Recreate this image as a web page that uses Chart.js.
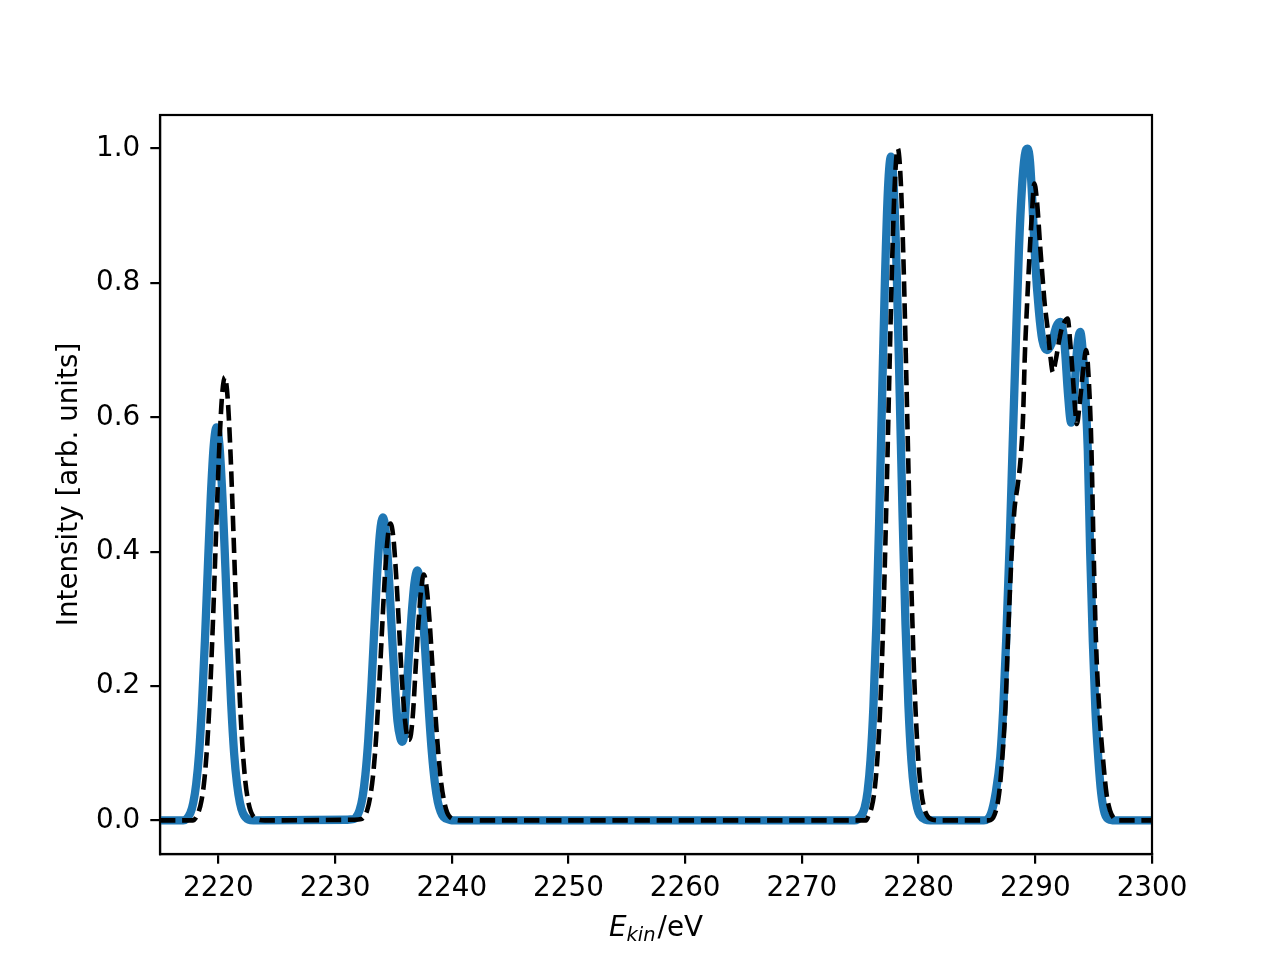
<!DOCTYPE html>
<html>
<head>
<meta charset="utf-8">
<script src="https://cdn.jsdelivr.net/npm/chart.js@4/dist/chart.umd.min.js"></script>
<style>
html,body{margin:0;padding:0;background:#fff;}
#wrap{width:1280px;height:960px;}
</style>
</head>
<body>
<div id="wrap"><canvas id="c" width="1280" height="960"></canvas></div>
<script>
// ---- data ----
const xTicks = [2220, 2230, 2240, 2250, 2260, 2270, 2280, 2290, 2300];
const yTicks = [0.0, 0.2, 0.4, 0.6, 0.8, 1.0];
const xLabelMain = "E";
const xLabelSub = "kin";
const xLabelTail = "/eV";
const yLabel = "Intensity [arb. units]";

// blue solid series
const blueE = [
  2215, 2217.0, 2217.6, 2217.85, 2218.1, 2218.35, 2218.6, 2218.85, 2219.1, 2219.35, 2219.6, 2219.85,
  2220.1, 2220.35, 2220.6, 2220.85, 2221.1, 2221.35, 2221.6, 2221.85, 2222.1, 2222.6, 2223.0,
  2231.0, 2231.6, 2231.85, 2232.1, 2232.35, 2232.6, 2232.85, 2233.1, 2233.35, 2233.6, 2233.85, 2234.1,
  2234.35, 2234.6, 2234.85, 2235.1, 2235.35, 2235.6, 2235.75, 2235.9, 2236.05, 2236.3, 2236.55, 2236.8,
  2237.05, 2237.3, 2237.55, 2237.8, 2238.05, 2238.3, 2238.55, 2238.8, 2239.05, 2239.3, 2239.8, 2240.0,
  2274.5, 2275.1, 2275.38, 2275.63, 2275.88, 2276.13, 2276.38, 2276.63, 2276.88, 2277.13, 2277.38, 2277.63,
  2277.88, 2278.13, 2278.38, 2278.63, 2278.88, 2279.13, 2279.38, 2279.63, 2279.88, 2280.13, 2280.6, 2281.0,
  2285.6, 2286.2, 2286.6, 2287.0, 2287.25, 2287.5, 2287.8, 2288.07, 2288.35, 2288.6, 2288.85, 2289.1,
  2289.35, 2289.55, 2289.75, 2290.0, 2290.3, 2290.6, 2291.0, 2291.4, 2291.8, 2292.15, 2292.5, 2292.8,
  2293.07, 2293.35, 2293.6, 2293.85, 2294.1, 2294.3, 2294.5, 2294.7, 2294.93, 2295.15, 2295.4, 2295.65,
  2295.95, 2296.4, 2297.0, 2300
];
const blueI = [
  0, 0, 0.011, 0.026, 0.054, 0.10, 0.173, 0.268, 0.377, 0.481, 0.557, 0.585,
  0.557, 0.481, 0.377, 0.268, 0.173, 0.10, 0.054, 0.026, 0.011, 0.001, 0,
  0.001, 0.002, 0.006, 0.015, 0.034, 0.068, 0.121, 0.194, 0.280, 0.365, 0.428, 0.451,
  0.429, 0.367, 0.286, 0.209, 0.148, 0.122, 0.117, 0.124, 0.17, 0.239, 0.304, 0.353,
  0.372, 0.353, 0.301, 0.231, 0.160, 0.100, 0.056, 0.028, 0.013, 0.005, 0.001, 0,
  0, 0.0075, 0.019, 0.043, 0.090, 0.170, 0.291, 0.452, 0.636, 0.813, 0.941, 0.988,
  0.941, 0.813, 0.636, 0.452, 0.291, 0.170, 0.090, 0.043, 0.019, 0.0075, 0.001, 0,
  0, 0.01, 0.04, 0.095, 0.165, 0.266, 0.41, 0.565, 0.72, 0.85, 0.94, 0.99,
  1.0, 0.98, 0.92, 0.83, 0.76, 0.715, 0.70, 0.71, 0.735, 0.742, 0.71, 0.635,
  0.592, 0.64, 0.705, 0.727, 0.69, 0.63, 0.55, 0.40, 0.266, 0.165, 0.092, 0.04,
  0.01, 0.001, 0, 0
];

// black dashed series
const blackE = [
  2215, 2217.8, 2218.3, 2218.55, 2218.8, 2219.05, 2219.3, 2219.55, 2219.8, 2220.05, 2220.3, 2220.55,
  2220.8, 2221.05, 2221.3, 2221.55, 2221.8, 2222.05, 2222.3, 2222.55, 2222.8, 2223.3, 2224.0,
  2231.6, 2232.25, 2232.5, 2232.75, 2233.0, 2233.25, 2233.5, 2233.75, 2234.0, 2234.25, 2234.5, 2234.75,
  2235.0, 2235.25, 2235.5, 2235.75, 2236.0, 2236.2, 2236.35, 2236.5, 2236.7, 2236.9, 2237.15, 2237.4,
  2237.6, 2237.85, 2238.1, 2238.35, 2238.6, 2238.85, 2239.1, 2239.35, 2239.6, 2239.85, 2240.3, 2241.0,
  2275.5, 2275.72, 2275.97, 2276.22, 2276.47, 2276.72, 2276.97, 2277.22, 2277.47, 2277.72, 2277.97, 2278.22,
  2278.47, 2278.72, 2278.97, 2279.22, 2279.47, 2279.72, 2279.97, 2280.22, 2280.47, 2280.72, 2281.2, 2282.0,
  2286.0, 2286.5, 2286.9, 2287.2, 2287.45, 2287.65, 2287.9, 2288.2, 2288.5, 2288.75, 2288.95, 2289.1,
  2289.3, 2289.5, 2289.7, 2289.92, 2290.15, 2290.42, 2290.64, 2290.8, 2291.07, 2291.3, 2291.5, 2291.75,
  2292.0, 2292.2, 2292.5, 2292.77, 2293.0, 2293.2, 2293.4, 2293.56, 2293.8, 2294.07, 2294.36, 2294.6,
  2294.8, 2295.0, 2295.2, 2295.5, 2295.8, 2296.1, 2296.4, 2296.7, 2297.2, 2300
];
const blackI = [
  0, 0, 0.0125, 0.029, 0.060, 0.114, 0.195, 0.302, 0.425, 0.543, 0.628, 0.66,
  0.628, 0.543, 0.425, 0.302, 0.195, 0.114, 0.060, 0.029, 0.0125, 0.002, 0,
  0.001, 0.002, 0.006, 0.015, 0.034, 0.066, 0.118, 0.190, 0.275, 0.358, 0.419, 0.442,
  0.420, 0.360, 0.282, 0.204, 0.148, 0.124, 0.120, 0.128, 0.165, 0.225, 0.295, 0.347,
  0.366, 0.346, 0.296, 0.228, 0.158, 0.099, 0.055, 0.028, 0.012, 0.005, 0.001, 0,
  0, 0.0076, 0.019, 0.044, 0.092, 0.172, 0.295, 0.458, 0.644, 0.823, 0.952, 1.0,
  0.952, 0.823, 0.644, 0.458, 0.295, 0.172, 0.092, 0.044, 0.019, 0.0076, 0.001, 0,
  0, 0.008, 0.04, 0.10, 0.17, 0.266, 0.37, 0.46, 0.50, 0.54, 0.60, 0.69,
  0.77, 0.84, 0.90, 0.948, 0.92, 0.854, 0.804, 0.77, 0.73, 0.69, 0.667, 0.685,
  0.71, 0.728, 0.742, 0.747, 0.71, 0.665, 0.615, 0.59, 0.62, 0.665, 0.70, 0.65,
  0.56, 0.40, 0.266, 0.16, 0.092, 0.04, 0.015, 0.004, 0, 0
];

const bluePts = blueE.map((e, i) => ({x: e, y: blueI[i]}));
const blackPts = blackE.map((e, i) => ({x: e, y: blackI[i]}));

const FONT = "'DejaVu Sans', sans-serif";
const FS = 27.8;

const framePlugin = {
  id: 'frame',
  afterDraw(chart) {
    const {ctx, chartArea: a} = chart;
    ctx.save();
    ctx.strokeStyle = '#000';
    ctx.lineWidth = 2.2;
    ctx.strokeRect(a.left, a.top, a.right - a.left, a.bottom - a.top);
    // y label
    ctx.fillStyle = '#000';
    ctx.font = FS + "px " + FONT;
    ctx.translate(70, (a.top + a.bottom) / 2);
    ctx.rotate(-Math.PI / 2);
    ctx.textAlign = 'center';
    ctx.textBaseline = 'middle';
    ctx.fillText(yLabel, 0, 0);
    ctx.restore();
    // x label with subscript
    ctx.save();
    ctx.fillStyle = '#000';
    ctx.textBaseline = 'alphabetic';
    ctx.textAlign = 'left';
    const fMain = "italic " + FS + "px " + FONT;
    const fSub = "italic " + (FS * 0.7).toFixed(1) + "px " + FONT;
    const fTail = FS + "px " + FONT;
    ctx.font = fMain; const w1 = ctx.measureText(xLabelMain).width;
    ctx.font = fSub; const w2 = ctx.measureText(xLabelSub).width;
    ctx.font = fTail; const w3 = ctx.measureText(xLabelTail).width;
    const total = w1 + w2 + w3 + 2;
    let x = (a.left + a.right) / 2 - total / 2;
    const base = 936;
    ctx.font = fMain; ctx.fillText(xLabelMain, x, base); x += w1;
    ctx.font = fSub; ctx.fillText(xLabelSub, x, base + 5); x += w2 + 2;
    ctx.font = fTail; ctx.fillText(xLabelTail, x, base);
    ctx.restore();
  }
};

new Chart(document.getElementById('c'), {
  type: 'line',
  data: {
    datasets: [
      {
        data: bluePts,
        borderColor: '#1f77b4',
        borderWidth: 8.3,
        pointRadius: 0,
        fill: false,
        cubicInterpolationMode: 'monotone',
        borderCapStyle: 'butt',
        borderJoinStyle: 'round',
        order: 2
      },
      {
        data: blackPts,
        borderColor: '#000000',
        borderWidth: 4.6,
        borderDash: [15.4, 6.7],
        pointRadius: 0,
        fill: false,
        cubicInterpolationMode: 'monotone',
        borderCapStyle: 'butt',
        borderJoinStyle: 'round',
        order: 1
      }
    ]
  },
  options: {
    responsive: false,
    animation: false,
    devicePixelRatio: 1,
    layout: {padding: {left: 0, top: 115, right: 128, bottom: 0}},
    plugins: {legend: {display: false}, tooltip: {enabled: false}},
    scales: {
      x: {
        type: 'linear',
        min: 2215,
        max: 2300,
        afterBuildTicks(scale) { scale.ticks = xTicks.map(v => ({value: v})); },
        afterFit(scale) { scale.height = 106; },
        grid: {display: true, drawOnChartArea: false, drawTicks: true, tickLength: 9.7, color: '#000', lineWidth: 2.2},
        border: {display: true, color: '#000', width: 2.2},
        ticks: {
          color: '#000',
          font: {family: FONT, size: FS},
          padding: 8,
          maxRotation: 0,
          autoSkip: false,
          callback: v => String(v)
        }
      },
      y: {
        type: 'linear',
        min: -0.05,
        max: 1.05,
        afterBuildTicks(scale) { scale.ticks = yTicks.map(v => ({value: v})); },
        afterFit(scale) { scale.width = 160; },
        grid: {display: true, drawOnChartArea: false, drawTicks: true, tickLength: 9.7, color: '#000', lineWidth: 2.2},
        border: {display: true, color: '#000', width: 2.2},
        ticks: {
          color: '#000',
          font: {family: FONT, size: FS},
          padding: 10,
          autoSkip: false,
          callback: v => Number(v).toFixed(1)
        }
      }
    }
  },
  plugins: [framePlugin]
});
</script>
</body>
</html>
